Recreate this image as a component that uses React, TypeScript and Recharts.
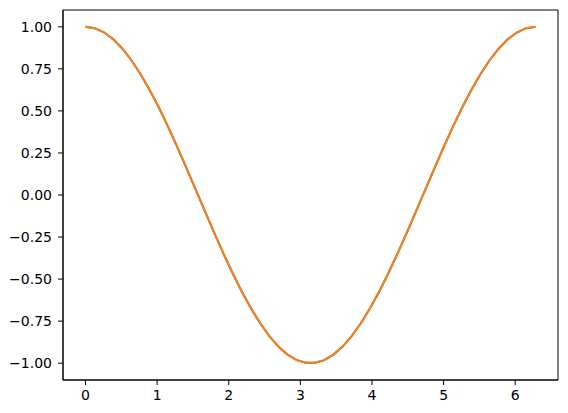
import { LineChart, Line, XAxis, YAxis, ReferenceArea } from 'recharts';

// sample positions along x (0 .. 2π, 50 points)
const xValues = [
  0, 0.1282, 0.2565, 0.3847, 0.5129, 0.6411, 0.7694, 0.8976, 1.0258, 1.1541,
  1.2823, 1.4105, 1.5387, 1.667, 1.7952, 1.9234, 2.0517, 2.1799, 2.3081, 2.4363,
  2.5646, 2.6928, 2.821, 2.9493, 3.0775, 3.2057, 3.3339, 3.4622, 3.5904, 3.7186,
  3.8468, 3.9751, 4.1033, 4.2315, 4.3598, 4.488, 4.6162, 4.7444, 4.8727, 5.0009,
  5.1291, 5.2574, 5.3856, 5.5138, 5.642, 5.7703, 5.8985, 6.0267, 6.155, 6.2832,
];

const blueValues = [
  1, 0.9918, 0.9673, 0.9269, 0.8713, 0.8014, 0.7183, 0.6235, 0.5184, 0.4048,
  0.2845, 0.1596, 0.0321, -0.096, -0.2225, -0.3454, -0.4625, -0.5721, -0.6723, -0.7615,
  -0.8381, -0.901, -0.9491, -0.9816, -0.9979, -0.9979, -0.9816, -0.9491, -0.901, -0.8381,
  -0.7615, -0.6723, -0.5721, -0.4625, -0.3454, -0.2225, -0.096, 0.0321, 0.1596, 0.2845,
  0.4048, 0.5184, 0.6235, 0.7183, 0.8014, 0.8713, 0.9269, 0.9673, 0.9918, 1,
];

const orangeValues = [
  1, 0.9918, 0.9673, 0.9269, 0.8713, 0.8014, 0.7183, 0.6235, 0.5184, 0.4048,
  0.2845, 0.1596, 0.0321, -0.096, -0.2225, -0.3454, -0.4625, -0.5721, -0.6723, -0.7615,
  -0.8381, -0.901, -0.9491, -0.9816, -0.9979, -0.9979, -0.9816, -0.9491, -0.901, -0.8381,
  -0.7615, -0.6723, -0.5721, -0.4625, -0.3454, -0.2225, -0.096, 0.0321, 0.1596, 0.2845,
  0.4048, 0.5184, 0.6235, 0.7183, 0.8014, 0.8713, 0.9269, 0.9673, 0.9918, 1,
];

const xTicks = [0, 1, 2, 3, 4, 5, 6];
const yTicks = [-1, -0.75, -0.5, -0.25, 0, 0.25, 0.5, 0.75, 1];

const data = xValues.map((x, i) => ({ x, blue: blueValues[i], orange: orangeValues[i] }));

const X_MIN = -0.31416;
const X_MAX = 6.59734;
const Y_MIN = -1.1;
const Y_MAX = 1.1;

const fmtY = (v: number) => v.toFixed(2).replace('-', '\u2212');
const tickStyle = { fill: '#000', fontSize: 14, fontFamily: 'DejaVu Sans' };

export default function App() {
  return (
    <div style={{ position: 'absolute', left: 0, top: 0, width: 568, height: 413, background: '#fff' }}>
      <LineChart width={568} height={413} data={data} margin={{ top: 10, right: 10, bottom: 0, left: 0 }}>
        <XAxis
          dataKey="x"
          type="number"
          domain={[X_MIN, X_MAX]}
          allowDataOverflow
          ticks={xTicks}
          height={33}
          tickSize={5}
          tickMargin={5}
          tick={tickStyle}
          stroke="#000"
          tickLine={{ stroke: '#000' }}
        />
        <YAxis
          type="number"
          domain={[Y_MIN, Y_MAX]}
          allowDataOverflow
          ticks={yTicks}
          tickFormatter={fmtY}
          width={63}
          tickSize={5}
          tickMargin={6}
          tick={tickStyle}
          stroke="#000"
          tickLine={{ stroke: '#000' }}
        />
        <ReferenceArea x1={X_MIN} x2={X_MAX} y1={Y_MIN} y2={Y_MAX} fill="none" stroke="#000" strokeWidth={1} ifOverflow="visible" />
        <Line dataKey="blue" type="linear" stroke="#1f77b4" strokeWidth={2} dot={false} isAnimationActive={false} />
        <Line dataKey="orange" type="linear" stroke="#ff7f0e" strokeWidth={2} dot={false} isAnimationActive={false} />
      </LineChart>
    </div>
  );
}
